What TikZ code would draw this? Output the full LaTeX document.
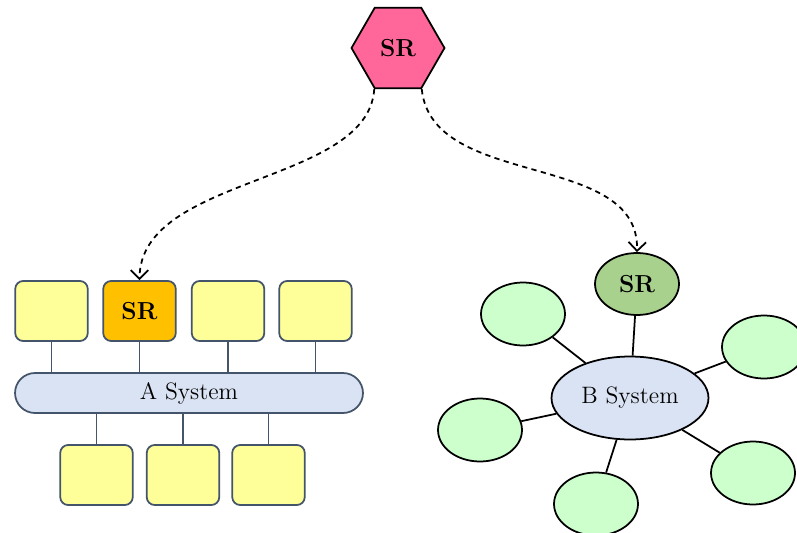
\documentclass[tikz,border=0pt]{standalone}
\usetikzlibrary{shapes.geometric,arrows.meta}
\definecolor{srpink}{HTML}{FF6699}
\definecolor{slate}{HTML}{44546A}
\definecolor{boxyellow}{HTML}{FFFF99}
\definecolor{srorange}{HTML}{FFC000}
\definecolor{syslblue}{HTML}{DAE3F3}
\definecolor{srgreen}{HTML}{A9D18E}
\definecolor{satgreen}{HTML}{CCFFCC}
\begin{document}
\begin{tikzpicture}[x=0.02cm,y=-0.02cm,
		font=\fontsize{13.5}{15}\selectfont,
		hexa/.style={regular polygon,regular polygon sides=6,minimum size=1.86cm,inner sep=0pt,draw,line width=1pt,fill=srpink,font=\fontsize{14}{16}\selectfont\bfseries},
		box/.style={draw=slate,line width=1pt,rounded corners=4.5pt,fill=boxyellow,minimum width=1.45cm,minimum height=1.2cm,inner sep=0pt,font=\fontsize{14}{16}\selectfont\bfseries},
		bus/.style={draw=slate,line width=1pt,rounded corners=0.4cm,fill=syslblue,minimum width=6.96cm,minimum height=0.8cm,inner sep=0pt},
		sat/.style={ellipse,draw,line width=1pt,fill=satgreen,minimum width=1.68cm,minimum height=1.26cm,inner sep=0pt},
		flow/.style={dashed,line width=1pt,dash pattern=on 3pt off 2.5pt,-{Straight Barb[length=5pt,width=10pt]}}]
		\useasboundingbox (0,0) rectangle (797,533);
		\node[hexa] (sr) at (398,48) {SR};
		% A system
		\node[bus] (asys) at (189,393) {A System};
		\node[box] (a1) at (51.5,311) {};
		\node[box,fill=srorange] (a2) at (139.5,311) {SR};
		\node[box] (a3) at (228,311) {};
		\node[box] (a4) at (315.5,311) {};
		\node[box] (a5) at (96.5,475) {};
		\node[box] (a6) at (183,475) {};
		\node[box] (a7) at (268.5,475) {};
		\foreach \n in {a1,a2,a3,a4}
			\draw [slate,line width=1pt] (\n) -- (\n |- asys.north);
		\foreach \n in {a5,a6,a7}
			\draw [slate,line width=1pt] (\n) -- (\n |- asys.south);
		% B system
		\node[sat,fill=syslblue,minimum width=3.14cm,minimum height=1.66cm] (bsys) at (630,398) {B System};
		\node[sat,fill=srgreen,minimum height=1.24cm,font=\fontsize{14}{16}\selectfont\bfseries] (bsr) at (637,284) {SR};
		\node[sat] (b1) at (523,314) {};
		\node[sat] (b2) at (764,347) {};
		\node[sat] (b3) at (480,430) {};
		\node[sat] (b4) at (596,504) {};
		\node[sat] (b5) at (753,473) {};
		\foreach \n in {bsr,b1,b2,b3,b4,b5}
			\draw [line width=1pt] (bsys) -- (\n);
		\draw [flow] (sr.240) .. controls (368,185) and (140,175) .. (a2.north);
		\draw [flow] (sr.300) .. controls (432,190) and (640,150) .. (bsr.north);
\end{tikzpicture}
\end{document}
